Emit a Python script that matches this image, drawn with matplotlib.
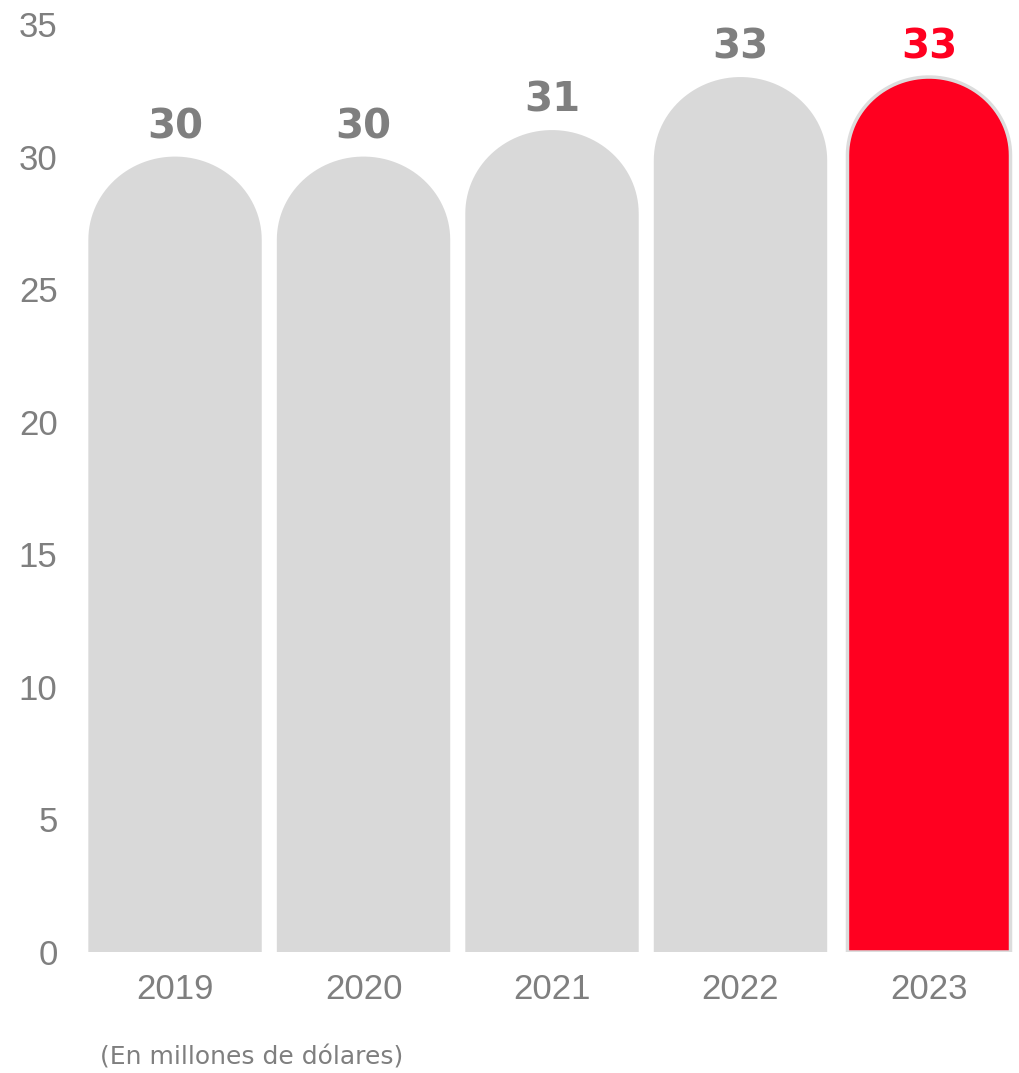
import numpy as np
import matplotlib
matplotlib.use("Agg")
import matplotlib.pyplot as plt
from matplotlib.path import Path
from matplotlib.patches import PathPatch

# ingresos anuales (millones de USD)
years = ["2019", "2020", "2021", "2022", "2023"]
values = [30, 30, 31, 33, 33]
highlight = "2023"

GREY_BAR = "#d9d9d9"
RED = "#ff0020"
TXT = "#7f7f7f"

fig = plt.figure(figsize=(10.19, 10.73), dpi=100)
ax = fig.add_axes([84 / 1019, (1073 - 952) / 1073, (1017 - 84) / 1019, (952 - 24) / 1073])

x = np.arange(len(years))
ax.set_xlim(-0.483, 4.467)
ax.set_ylim(0, 35)

# circle-shaped caps: convert x radius into y data units
fig.canvas.draw()
p0 = ax.transData.transform((0, 0))
p1 = ax.transData.transform((1, 1))
px_x = p1[0] - p0[0]
px_y = p1[1] - p0[1]


def rounded_bar(xc, h, width):
    rx = width / 2
    ry = rx * px_x / px_y * 0.96
    t = np.linspace(0, np.pi, 60)
    arc = np.column_stack([xc + rx * np.cos(t), h - ry + ry * np.sin(t)])
    verts = np.vstack([[xc + rx, 0], arc, [xc - rx, 0], [xc + rx, 0]])
    codes = [Path.MOVETO] + [Path.LINETO] * (len(verts) - 2) + [Path.CLOSEPOLY]
    return Path(verts, codes)


for xi, yr, v in zip(x, years, values):
    hot = yr == highlight
    if hot:
        patch = PathPatch(rounded_bar(xi, v, 0.865), facecolor=RED, edgecolor="#dcdcdc", lw=2.5)
    else:
        patch = PathPatch(rounded_bar(xi, v, 0.92), facecolor=GREY_BAR, edgecolor="none")
    ax.add_patch(patch)
    ax.annotate(str(v), (xi, v), xytext=(0, 21), textcoords="offset points",
                ha="center", va="center", fontsize=29, fontweight="bold",
                family="DejaVu Sans", color=RED if hot else TXT)

ax.set_yticks(range(0, 36, 5))
ax.set_xticks(x)
ax.set_xticklabels(years)
ax.tick_params(length=0, labelsize=25, labelcolor=TXT)
ax.tick_params(axis="y", pad=19)
ax.tick_params(axis="x", pad=15)
for lab in ax.get_xticklabels() + ax.get_yticklabels():
    lab.set_family("Liberation Sans")
for s in ax.spines.values():
    s.set_visible(False)

fig.text(100 / 1019, 1 - 1057 / 1073, "(En millones de dólares)", ha="left", va="center",
         fontsize=18, color=TXT, family="DejaVu Sans")

fig.savefig("out.png", dpi=100)
